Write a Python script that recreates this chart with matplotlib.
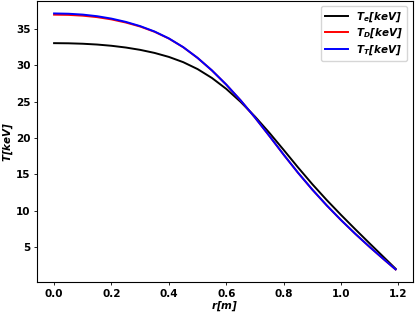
import matplotlib
matplotlib.use("Agg")
import matplotlib.pyplot as plt

r = [0.00, 0.05, 0.10, 0.15, 0.20, 0.25, 0.30, 0.35, 0.40, 0.45, 0.50, 0.55,
     0.60, 0.65, 0.70, 0.75, 0.80, 0.85, 0.90, 0.95, 1.00, 1.05, 1.10, 1.15, 1.19]
Te = [33.02, 33.00, 32.94, 32.83, 32.66, 32.42, 32.10, 31.68, 31.13, 30.41, 29.46, 28.24,
      26.74, 24.96, 22.94, 20.72, 18.36, 15.96, 13.65, 11.48, 9.43, 7.45, 5.51, 3.59, 2.05]
TD = [36.93, 36.90, 36.79, 36.59, 36.28, 35.85, 35.30, 34.58, 33.65, 32.46, 30.99, 29.27,
      27.32, 25.16, 22.80, 20.28, 17.70, 15.22, 12.90, 10.74, 8.72, 6.82, 5.02, 3.30, 1.95]
TT = [37.10, 37.06, 36.94, 36.72, 36.39, 35.94, 35.36, 34.62, 33.67, 32.47, 31.00, 29.28,
      27.33, 25.17, 22.81, 20.29, 17.71, 15.23, 12.91, 10.75, 8.73, 6.83, 5.03, 3.31, 1.96]

labels = [r'$\mathbfit{T_e[keV]}$', r'$\mathbfit{T_D[keV]}$', r'$\mathbfit{T_T[keV]}$']
xticks = [0.0, 0.2, 0.4, 0.6, 0.8, 1.0, 1.2]
yticks = [5, 10, 15, 20, 25, 30, 35]

plt.rcParams['font.weight'] = 'bold'
fig = plt.figure(figsize=(4.15, 3.15), dpi=100)
ax = fig.add_axes([37/415, 1 - 282.3/315, (412.7 - 37)/415, 282.3/315 - 0.002])
ax.plot(r, Te, color='black', lw=1.4, label=labels[0])
ax.plot(r, TD, color='red', lw=1.4, label=labels[1])
ax.plot(r, TT, color='blue', lw=1.4, label=labels[2])

ax.set_xticks(xticks)
ax.set_xticklabels([f'{v:.1f}' for v in xticks], fontsize=7.5, fontweight='bold')
ax.set_yticks(yticks)
ax.set_yticklabels([str(v) for v in yticks], fontsize=7.5, fontweight='bold')
ax.tick_params(width=0.6, length=2.5, pad=2)
for s in ax.spines.values():
    s.set_linewidth(0.8)
ax.set_xlabel(r'$\mathbfit{r[m]}$', fontsize=7.5, labelpad=1)
ax.set_ylabel(r'$\mathbfit{T[keV]}$', fontsize=7.5, labelpad=1)
ax.legend(loc='upper right', fontsize=7.5, handlelength=2.2, framealpha=0.8,
          borderpad=0.4, labelspacing=0.3)
fig.savefig('out.png', dpi=100)
